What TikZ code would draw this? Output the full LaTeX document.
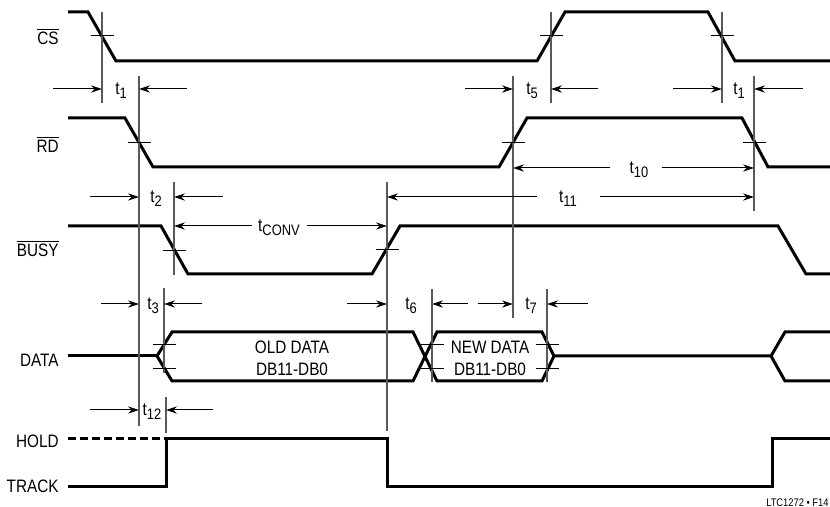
\documentclass[tikz,border=0pt]{standalone}
\usepackage{fontspec}
\setmainfont{Liberation Sans}[FakeStretch=0.85]
\usetikzlibrary{arrows.meta}

\newcommand{\ovl}[1]{$\overline{\mbox{#1}}$}
\newcommand{\tm}[1]{t\raisebox{-1.8pt}{\fontsize{7.6}{8}\selectfont #1}}
\newcommand{\xmark}[2]{\draw[tick] (#1-11.5,#2) -- (#1+11.5,#2);}

\tikzset{
  sig/.style={line width=1.5pt},
  ref/.style={line width=0.55pt,black!65},
  tick/.style={line width=0.5pt},
  dim/.style={line width=0.5pt,-{Stealth[length=5.5pt,width=3.6pt]}},
  lbl/.style={font=\fontsize{9}{11}\selectfont,inner sep=0pt},
}

\begin{document}
\begin{tikzpicture}[x=0.5pt,y=-0.5pt]
\useasboundingbox (0,0) rectangle (830,507);

% signal names
\node[lbl,anchor=base east] (cslbl) at (59,45) {\ovl{CS}};
\node[lbl,anchor=base east] (rdlbl) at (59,153) {\ovl{RD}};
\node[lbl,anchor=base east] (busylbl) at (59,257) {\ovl{BUSY}};
\node[lbl,anchor=base east] (datalbl) at (59,367) {DATA};
\node[lbl,anchor=base east] (holdlbl) at (59,448) {HOLD};
\node[lbl,anchor=base east] (tracklbl) at (59,493) {TRACK};

% waveforms
\draw[sig] (68,12) -- (88,12) -- (116,61) -- (537,61) -- (565,12) -- (708,12) -- (735,61) -- (830,61);
\draw[sig] (68,118) -- (125,118) -- (153,167) -- (499,167) -- (527,118) -- (742,118) -- (768,167) -- (830,167);
\draw[sig] (68,226) -- (161,226) -- (188,274) -- (372,274) -- (400,226) -- (778,226) -- (806,274) -- (830,274);
\draw[sig] (68,356) -- (157,356);
\draw[sig] (157,356) -- (172,332) -- (413,332) -- (437,381) -- (542,381) -- (554,356) -- (542,332)
           -- (437,332) -- (413,381) -- (172,381) -- cycle;
\draw[sig] (554,356) -- (771,356) -- (785,332) -- (830,332)
           (771,356) -- (785,381) -- (830,381);
\draw[sig,dash pattern=on 4pt off 2pt] (68,439) -- (166,439);
\draw[sig] (68,487) -- (166,487) -- (166,439) -- (387,439) -- (387,487) -- (772,487) -- (772,439) -- (830,439);

% timing references
\draw[ref] (102,12) -- (102,103);
\draw[ref] (139,76) -- (139,426);
\draw[ref] (174,182) -- (174,275);
\draw[ref] (164,288) -- (164,373);
\draw[ref] (166,397) -- (166,433);
\draw[ref] (387,182) -- (387,431);
\draw[ref] (432,289) -- (432,382);
\draw[ref] (513,76) -- (513,318);
\draw[ref] (547,289) -- (547,382);
\draw[ref] (551,12) -- (551,103);
\draw[ref] (722,12) -- (722,103);
\draw[ref] (754,76) -- (754,211);

\xmark{102}{36} \xmark{551}{36} \xmark{722}{36}
\xmark{139}{143} \xmark{513}{143} \xmark{754}{143}
\xmark{174}{251} \xmark{387}{250}
\xmark{164}{345} \xmark{164}{369}
\xmark{432}{345} \xmark{432}{369}
\xmark{547}{345} \xmark{547}{369}

% timing parameters
\node[lbl,anchor=base] (t1a) at (121,95) {\tm{1}};
\draw[dim] (53,89) -- (102,89);
\draw[dim] (187,89) -- (139,89);
\node[lbl,anchor=base] (t5) at (532,95) {\tm{5}};
\draw[dim] (465,89) -- (513,89);
\draw[dim] (598,89) -- (551,89);
\node[lbl,anchor=base] (t1b) at (739,95) {\tm{1}};
\draw[dim] (673,89) -- (722,89);
\draw[dim] (803,89) -- (754,89);

\node[lbl,anchor=base] (t10) at (639,174) {\tm{10}};
\draw[dim] (610,168) -- (513,168);
\draw[dim] (662,168) -- (754,168);

\node[lbl,anchor=base] (t2) at (156,203) {\tm{2}};
\draw[dim] (90,197) -- (139,197);
\draw[dim] (223,197) -- (174,197);
\node[lbl,anchor=base] (t11) at (568,203) {\tm{11}};
\draw[dim] (537,197) -- (387,197);
\draw[dim] (600,197) -- (754,197);

\node[lbl,anchor=base] (tconv) at (279,232) {\tm{CONV}};
\draw[dim] (252,226) -- (174,226);
\draw[dim] (307,226) -- (387,226);

\node[lbl,anchor=base] (t3) at (153,310) {\tm{3}};
\draw[dim] (101,304) -- (139,304);
\draw[dim] (202,304) -- (164,304);
\node[lbl,anchor=base] (t6) at (411,310) {\tm{6}};
\draw[dim] (347,304) -- (387,304);
\draw[dim] (468,304) -- (432,304);
\node[lbl,anchor=base] (t7) at (531,310) {\tm{7}};
\draw[dim] (478,304) -- (513,304);
\draw[dim] (588,304) -- (547,304);

\node[lbl,anchor=base] (t12) at (152,416) {\tm{12}};
\draw[dim] (90,410) -- (139,410);
\draw[dim] (213,410) -- (166,410);

% bus contents
\node[lbl,anchor=base] (olddata) at (292,354) {OLD DATA};
\node[lbl,anchor=base] (olddb) at (292,376) {DB11-DB0};
\node[lbl,anchor=base] (newdata) at (490,354) {NEW DATA};
\node[lbl,anchor=base] (newdb) at (490,376) {DB11-DB0};

\node[inner sep=0pt,anchor=base east,font=\fontsize{5.5}{6}\selectfont] (fig) at (829,507) {LTC1272 • F14};
\end{tikzpicture}
\end{document}
